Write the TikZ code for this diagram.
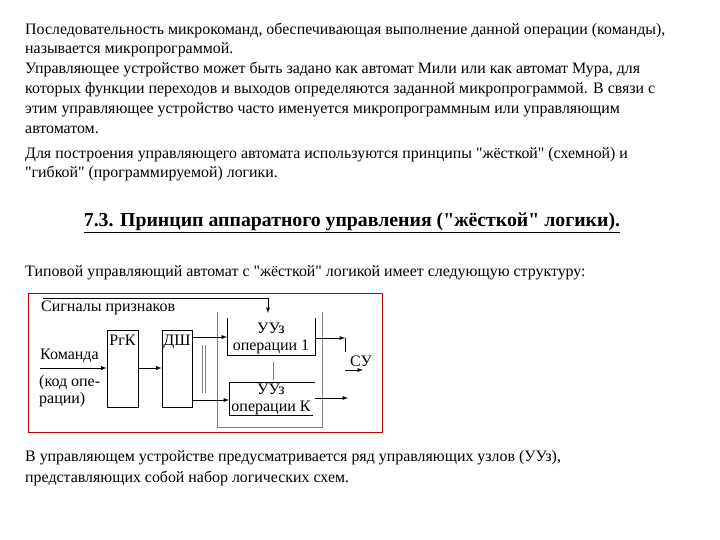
\documentclass[tikz,border=0pt]{standalone}
\usepackage{fontspec}
\setmainfont{Liberation Serif}[Ligatures=TeXOff]
\begin{document}
\begin{tikzpicture}[x=1pt,y=-1pt,
 txt/.style={anchor=west,inner sep=0,font=\fontsize{15.9}{18}\selectfont},
 dtxt/.style={inner sep=0,font=\fontsize{16}{17}\selectfont},
 ln/.style={line width=0.9pt},
 arr/.style={ln,-latex}]
\useasboundingbox (0,0) rectangle (720,540);
\node[txt] (p1) at (25,31) {Последовательность микрокоманд, обеспечивающая выполнение данной операции (команды),};
\node[txt] (p2) at (25,50) {называется микропрограммой.};
\node[txt] (p3) at (25,70) {Управляющее устройство может быть задано как автомат Мили или как автомат Мура, для};
\node[txt] (p4) at (25,90) {которых функции переходов и выходов определяются заданной микропрограммой. В связи с};
\node[txt] (p5) at (25,110) {этим управляющее устройство часто именуется микропрограммным или управляющим};
\node[txt] (p6) at (25,130) {автоматом.};
\node[txt] (p7) at (25,155) {Для построения управляющего автомата используются принципы "жёсткой" (схемной) и};
\node[txt] (p8) at (25,174) {"гибкой" (программируемой) логики.};
\node[inner sep=0,font=\fontsize{19.8}{22}\selectfont\bfseries] (h) at (352,223) {\underline{7.3. Принцип аппаратного управления ("жёсткой" логики).}};
\node[txt] (t1) at (25,273) {Типовой управляющий автомат с "жёсткой" логикой имеет следующую структуру:};
\node[txt] (b1) at (25,458) {В управляющем устройстве предусматривается ряд управляющих узлов (УУз),};
\node[txt] (b2) at (25,478) {представляющих собой набор логических схем.};
% diagram
\draw[red!75!black,line width=1pt] (28,293) rectangle (382,432);
\draw[gray,line width=0.8pt] (217,312) -- (217,427) -- (322,427) -- (322,312);
\node[dtxt,anchor=west] (sig) at (41,308) {Сигналы признаков};
\coordinate (fs) at (43,298);
\coordinate (fc) at (268,298);
\coordinate (fe) at (268,313);
\draw[arr] (fs) -- (fc) -- (fe);
\node[draw,ln,minimum width=31,minimum height=77,inner sep=0] (rg) at (122.5,368.5) {};
\node[dtxt,anchor=north] at (rg.north) [yshift=-5] {РгК};
\node[draw,ln,minimum width=30,minimum height=77,inner sep=0] (dsh) at (177,368.5) {};
\node[dtxt,anchor=north] at (dsh.north) [yshift=-5] {ДШ};
\node[dtxt,anchor=west] (kom) at (40,356) {Команда};
\node[dtxt,align=left,anchor=north west] (kod) at (39,375) {(код опе-\\рации)};
\coordinate (cin) at (40,368);
\draw[arr] (cin) -- (rg.west |- cin);
\draw[arr] (rg.east |- cin) -- (dsh.west |- cin);
\draw[ln] (227,318) -- (227,355) -- (315,355) -- (315,318);
\node[dtxt,align=center] (u1) at (271,338) {УУз\\операции 1};
\draw[ln] (315,382) -- (229,382) -- (229,415) -- (313,415);
\node[dtxt,align=center] (uk) at (271,399) {УУз\\операции К};
\coordinate (d1) at (192,337); \coordinate (d1e) at (227,337);
\coordinate (d2) at (192,400); \coordinate (d2e) at (229,400);
\draw[arr] (d1) -- (d1e);
\draw[arr] (d2) -- (d2e);
\draw[ln,gray] (202,345) -- (202,393);
\draw[ln,gray] (205,345) -- (205,393);
\draw[ln,gray] (273,362) -- (273,380);
\coordinate (o1) at (315,338); \coordinate (o1e) at (345,338);
\coordinate (o1d) at (345,352);
\draw[arr] (o1) -- (o1e);
\draw[ln] (o1e) -- (o1d);
\coordinate (o2) at (315,398); \coordinate (o2e) at (348,398);
\draw[arr] (o2) -- (o2e);
\node[dtxt,anchor=west] (su) at (350,361) {СУ};
\coordinate (s1) at (345,370); \coordinate (s2) at (363,370);
\draw[arr] (s1) -- (s2);
\end{tikzpicture}
\end{document}
